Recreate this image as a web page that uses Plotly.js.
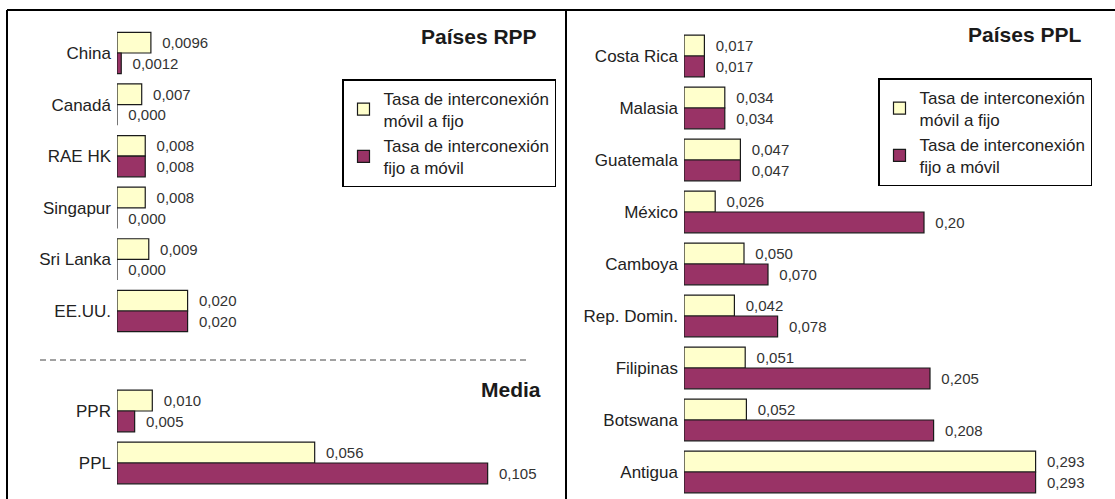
<!DOCTYPE html>
<html>
<head>
<meta charset="utf-8">
<script src="https://cdn.plot.ly/plotly-3.0.1.min.js"></script>
<style>
html,body{margin:0;padding:0;background:#fff;}
#chart{width:1115px;height:499px;}
</style>
</head>
<body>
<div id="chart"></div>
<script>
// ---- Data ----
const rppCountries = ["China", "Canadá", "RAE HK", "Singapur", "Sri Lanka", "EE.UU."];
const rppMovilFijo = [0.0096, 0.007, 0.008, 0.008, 0.009, 0.020];
const rppFijoMovil = [0.0012, 0.000, 0.008, 0.000, 0.000, 0.020];
const rppMovilFijoLabels = ["0,0096", "0,007", "0,008", "0,008", "0,009", "0,020"];
const rppFijoMovilLabels = ["0,0012", "0,000", "0,008", "0,000", "0,000", "0,020"];

const mediaGroups = ["PPR", "PPL"];
const mediaMovilFijo = [0.010, 0.056];
const mediaFijoMovil = [0.005, 0.105];
const mediaMovilFijoLabels = ["0,010", "0,056"];
const mediaFijoMovilLabels = ["0,005", "0,105"];

const pplCountries = ["Costa Rica", "Malasia", "Guatemala", "México", "Camboya", "Rep. Domin.", "Filipinas", "Botswana", "Antigua"];
const pplMovilFijo = [0.017, 0.034, 0.047, 0.026, 0.050, 0.042, 0.051, 0.052, 0.293];
const pplFijoMovil = [0.017, 0.034, 0.047, 0.20, 0.070, 0.078, 0.205, 0.208, 0.293];
const pplMovilFijoLabels = ["0,017", "0,034", "0,047", "0,026", "0,050", "0,042", "0,051", "0,052", "0,293"];
const pplFijoMovilLabels = ["0,017", "0,034", "0,047", "0,20", "0,070", "0,078", "0,205", "0,208", "0,293"];

const seriesNames = ["Tasa de interconexión<br>móvil a fijo", "Tasa de interconexión<br>fijo a móvil"];

// ---- Styles ----
const W = 1115, H = 499;
const FONT = "Liberation Sans, Arial, sans-serif";
const YELLOW = "#FFFFCC";
const PURPLE = "#993366";
const EDGE = "#1a1a1a";
const px = x => x / W;
const py = y => 1 - y / H;
const NB = "\u00A0\u00A0";

function barTrace(vals, cats, labels, name, color, xa, ya, legend, showlegend) {
  return {
    type: "bar", orientation: "h",
    x: vals, y: cats,
    name: name,
    text: labels.map(t => NB + t),
    textposition: "outside",
    cliponaxis: false,
    constraintext: "none",
    textfont: {family: FONT, size: 15, color: "#333"},
    marker: {color: color, line: {color: EDGE, width: 1.2}},
    xaxis: xa, yaxis: ya,
    legend: legend,
    showlegend: showlegend,
    hoverinfo: "x+y"
  };
}

const data = [
  barTrace(rppMovilFijo, rppCountries, rppMovilFijoLabels, seriesNames[0], YELLOW, "x", "y", "legend", true),
  barTrace(rppFijoMovil, rppCountries, rppFijoMovilLabels, seriesNames[1], PURPLE, "x", "y", "legend", true),
  barTrace(mediaMovilFijo, mediaGroups, mediaMovilFijoLabels, seriesNames[0], YELLOW, "x2", "y2", "legend", false),
  barTrace(mediaFijoMovil, mediaGroups, mediaFijoMovilLabels, seriesNames[1], PURPLE, "x2", "y2", "legend", false),
  barTrace(pplMovilFijo, pplCountries, pplMovilFijoLabels, seriesNames[0], YELLOW, "x3", "y3", "legend2", true),
  barTrace(pplFijoMovil, pplCountries, pplFijoMovilLabels, seriesNames[1], PURPLE, "x3", "y3", "legend2", true)
];

const leftScale = 3530;   // px per unit
const rightScale = 1200;  // px per unit

const yTick = {family: FONT, size: 17, color: "#222"};
function yAxis(domTop, domBottom, n, anchor) {
  return {
    domain: [py(domBottom), py(domTop)],
    type: "category",
    range: [n - 0.5, -0.5],
    showgrid: false, zeroline: false, showline: false,
    ticks: "", ticklabelstandoff: 5,
    tickfont: yTick,
    anchor: anchor,
    fixedrange: true
  };
}
function xAxis(x0, x1, scale, anchor) {
  return {
    domain: [px(x0), px(x1)],
    range: [0, (x1 - x0) / scale],
    visible: false,
    anchor: anchor,
    fixedrange: true
  };
}

const legendStyle = {
  xanchor: "left", yanchor: "top",
  bordercolor: "#000", borderwidth: 1.5, bgcolor: "#fff",
  font: {family: FONT, size: 17, color: "#222"},
  traceorder: "normal"
};

const layout = {
  width: W, height: H,
  margin: {l: 0, r: 0, t: 0, b: 0},
  paper_bgcolor: "#fff", plot_bgcolor: "rgba(0,0,0,0)",
  font: {family: FONT},
  barmode: "group", bargap: 0.2, bargroupgap: 0,
  showlegend: true,
  xaxis: xAxis(117, 555, leftScale, "y"),
  yaxis: yAxis(27.2, 336.8, rppCountries.length, "x"),
  xaxis2: xAxis(117, 555, leftScale, "y2"),
  yaxis2: yAxis(385, 489, mediaGroups.length, "x2"),
  xaxis3: xAxis(684, 1110, rightScale, "y3"),
  yaxis3: yAxis(30, 498, pplCountries.length, "x3"),
  legend: Object.assign({x: px(342), y: py(79)}, legendStyle),
  legend2: Object.assign({x: px(878), y: py(78)}, legendStyle),
  shapes: [
    {type: "line", xref: "paper", yref: "paper", x0: px(7), x1: 1, y0: py(10), y1: py(10), line: {color: "#000", width: 2}},
    {type: "line", xref: "paper", yref: "paper", x0: px(7), x1: px(7), y0: py(10), y1: 0, line: {color: "#000", width: 2}},
    {type: "line", xref: "paper", yref: "paper", x0: px(566), x1: px(566), y0: py(10), y1: 0, line: {color: "#000", width: 2}},
    {type: "line", xref: "paper", yref: "paper", x0: px(40), x1: px(528), y0: py(360), y1: py(360), line: {color: "#444", width: 1, dash: "6px,4px"}}
  ],
  annotations: [
    {text: "<b>Países RPP</b>", xref: "paper", yref: "paper", x: px(539), y: py(37), xanchor: "right", yanchor: "middle", showarrow: false, font: {family: FONT, size: 21, color: "#1a1a1a"}},
    {text: "<b>Países PPL</b>", xref: "paper", yref: "paper", x: px(1083), y: py(35), xanchor: "right", yanchor: "middle", showarrow: false, font: {family: FONT, size: 21, color: "#1a1a1a"}},
    {text: "<b>Media</b>", xref: "paper", yref: "paper", x: px(543), y: py(389), xanchor: "right", yanchor: "middle", showarrow: false, font: {family: FONT, size: 21, color: "#1a1a1a"}}
  ]
};

Plotly.newPlot("chart", data, layout, {displayModeBar: false, staticPlot: true});
</script>
</body>
</html>
